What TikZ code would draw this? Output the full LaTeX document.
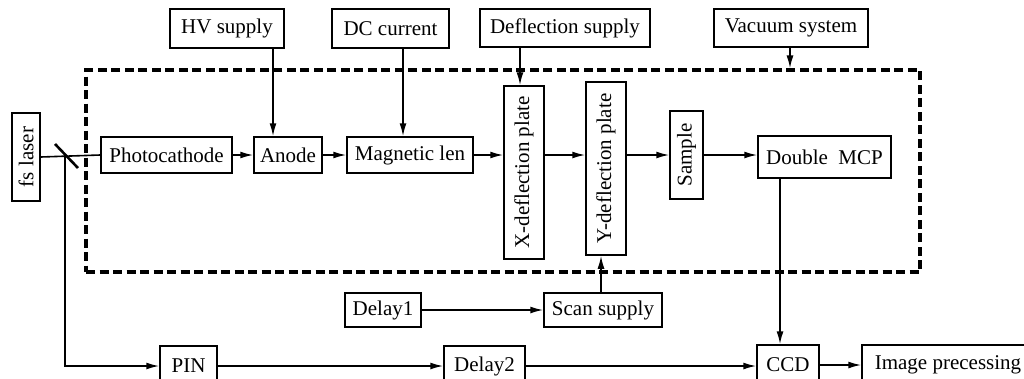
\documentclass[tikz,border=0pt]{standalone}
\usepackage{fontspec}
\setmainfont{Liberation Serif}
\usetikzlibrary{arrows.meta,calc}
\begin{document}
\begin{tikzpicture}[x=1pt,y=-1pt,
  box/.style={draw,line width=1.5pt,inner sep=0pt,font=\fontsize{21}{24}\selectfont},
  conn/.style={line width=1.6pt},
  arr/.style={conn,-{Latex[length=13pt,width=7pt]}},
  dashbox/.style={draw,line width=3.2pt,dash pattern=on 9pt off 4.5pt,inner sep=0pt}]
\useasboundingbox (0,0) rectangle (1024,378);
\clip (0,0) rectangle (1024,378);
% top supplies
\node[box,minimum width=114,minimum height=39] (hv) at (227,28.5) {HV supply};
\node[box,minimum width=117,minimum height=39] (dc) at (390.5,28.5) {DC current};
\node[box,minimum width=170,minimum height=38] (defl) at (565,28) {Deflection supply};
\node[box,minimum width=154,minimum height=38] (vac) at (791,28) {Vacuum system};
% vacuum chamber
\node[dashbox,minimum width=834,minimum height=202] (vbox) at (503,171) {};
% main chain
\node[box,minimum width=28,minimum height=88] (laser) at (26,157) {\rotatebox{90}{fs laser}};
\node[box,minimum width=131,minimum height=36] (photo) at (166.5,155) {Photocathode};
\node[box,minimum width=68,minimum height=36] (anode) at (288,155) {Anode};
\node[box,minimum width=126,minimum height=36] (mag) at (410,155) {Magnetic len};
\node[box,minimum width=40,minimum height=173] (xdef) at (524,172.5) {\rotatebox{90}{X-deflection plate}};
\node[box,minimum width=40,minimum height=173] (ydef) at (606,168.5) {\rotatebox{90}{Y-deflection plate}};
\node[box,minimum width=33,minimum height=88] (sample) at (686.5,155) {\rotatebox{90}{Sample}};
\node[box,minimum width=133,minimum height=42] (mcp) at (824.5,157) {Double\ \ MCP};
% lower rows
\node[box,minimum width=76,minimum height=34] (delay1) at (383,310) {Delay1};
\node[box,minimum width=118,minimum height=34] (scan) at (603,310) {Scan supply};
\node[box,minimum width=57,minimum height=40] (pin) at (188.5,366) {PIN};
\node[box,minimum width=81,minimum height=40] (delay2) at (484.5,366) {Delay2};
\node[box,minimum width=62,minimum height=40] (ccd) at (788,365) {CCD};
\node[box,minimum width=172,minimum height=40] (img) at (948,365) {Image precessing};
% laser beam, mirror, split
\coordinate (m) at (65,155);
\coordinate (corner) at (65,366);
\draw[conn] (laser.east) -- (photo.west);
\draw[line width=2.6pt] (55,144) -- (78,168);
\draw[arr] (m) -- (corner) -- (pin.west);
% main chain arrows
\draw[arr] (photo.east) -- (anode.west);
\draw[arr] (anode.east) -- (mag.west);
\draw[arr] (mag.east) -- (xdef.west |- mag.east);
\draw[arr] (xdef.east |- mag.east) -- (ydef.west |- mag.east);
\draw[arr] (ydef.east |- mag.east) -- (sample.west |- mag.east);
\draw[arr] (sample.east) -- (mcp.west |- sample.east);
% supplies
\draw[arr] (hv.south -| 273,0) -- (anode.north -| 273,0);
\draw[arr] (dc.south -| 403,0) -- (mag.north -| 403,0);
\draw[arr] (defl.south -| 520,0) -- (xdef.north -| 520,0);
\draw[arr] (vac.south -| 790,0) -- (vbox.north -| 790,0);
\draw[arr] (scan.north -| 601,0) -- (ydef.south -| 601,0);
\draw[arr] (delay1.east) -- (scan.west);
\draw[arr] (pin.east) -- (delay2.west);
\draw[arr] (delay2.east) -- (ccd.west |- delay2.east);
\draw[arr] (mcp.south -| 780,0) -- (ccd.north -| 780,0);
\draw[arr] (ccd.east) -- (img.west);
\end{tikzpicture}
\end{document}
